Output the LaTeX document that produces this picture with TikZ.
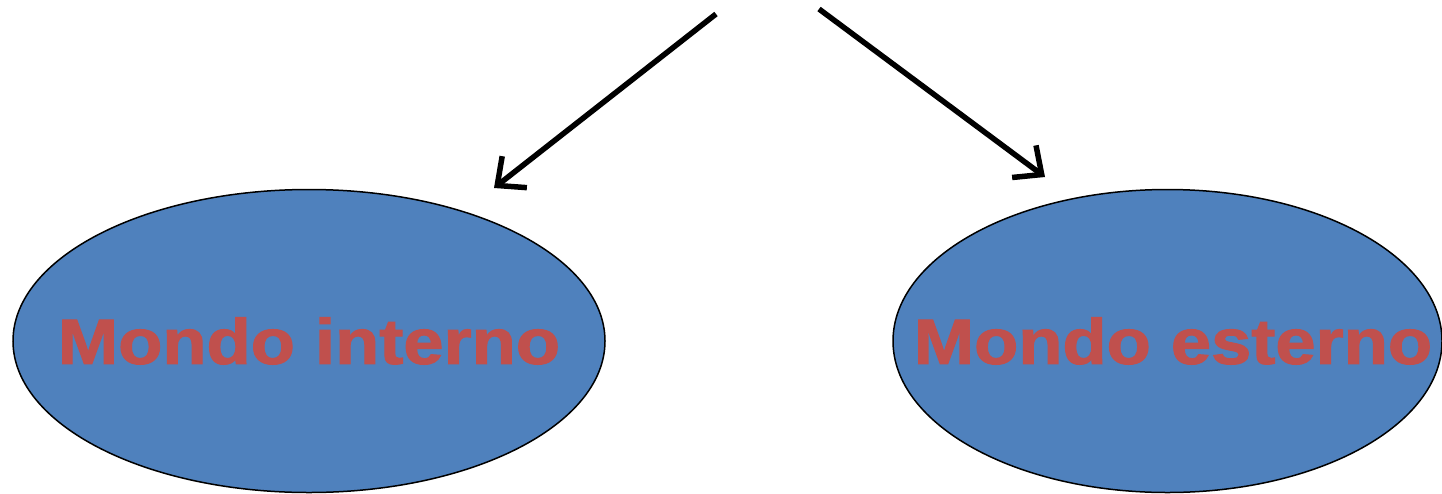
\documentclass[tikz,border=0pt]{standalone}
\usepackage{fontspec}
\setmainfont{Liberation Sans}
\newfontfamily\heavyfont{Liberation Sans Bold}[FakeBold=1.6]
\usetikzlibrary{shapes.geometric,arrows.meta}
\definecolor{worldblue}{HTML}{4F81BD}
\definecolor{worldred}{HTML}{C0504D}
\begin{document}
\begin{tikzpicture}[x=1pt,y=-1pt,
  world/.style={ellipse, draw=black, line width=1.5pt, fill=worldblue,
    inner sep=0pt, minimum height=303pt},
  worldname/.style={text=worldred, inner sep=0pt,
    font=\fontsize{64}{64}\heavyfont},
  branch/.style={line width=5.5pt, -{Straight Barb[length=22pt,width=40pt,line width=5.5pt]}}]
  \useasboundingbox (0,0) rectangle (1442,493);
  \clip (0,0) rectangle (1442,493);
  \node[world, minimum width=592pt] (inner) at (309,341) {};
  \node[world, minimum width=549pt] (outer) at (1167.5,341) {};
  \node[worldname] (innerlabel) at (inner.center) {\scalebox{1.13}[1]{Mondo interno}};
  \node[worldname] (outerlabel) at (1173,341) {\scalebox{1.13}[1]{Mondo esterno}};
  \coordinate (srcL) at (716,14);
  \coordinate (tipL) at (494,188);
  \coordinate (srcR) at (819,9);
  \coordinate (tipR) at (1045,177);
  \draw[branch] (srcL) -- (tipL);
  \draw[branch] (srcR) -- (tipR);
\end{tikzpicture}
\end{document}
